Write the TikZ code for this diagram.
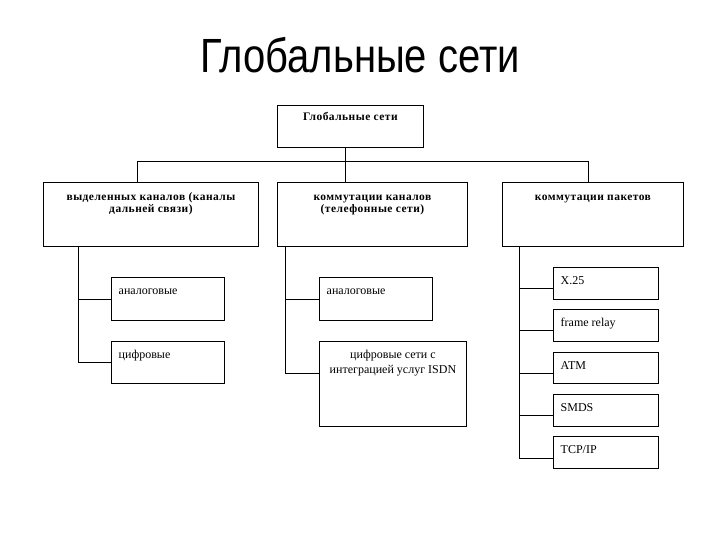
\documentclass[tikz,border=0pt]{standalone}
\usepackage{fontspec}
\setmainfont{Liberation Serif}
\newfontfamily\titlefont{Liberation Sans}
\newfontfamily\headfont[LetterSpace=4]{Liberation Serif}

\tikzset{
  box/.style 2 args={draw, line width=0.9pt, anchor=north west,
    minimum width=#1, minimum height=#2, inner sep=0pt},
  head/.style={anchor=base, inner sep=0pt, yshift=-19pt,
    font=\headfont\bfseries\fontsize{11.5}{12}\selectfont},
  item/.style={anchor=base west, inner sep=0pt, xshift=7.5pt, yshift=-17.5pt,
    font=\fontsize{12}{15}\selectfont},
  itemc/.style={anchor=base, inner sep=0pt, yshift=-17pt,
    font=\fontsize{12}{15}\selectfont},
  link/.style={line width=0.9pt}
}

\begin{document}
\begin{tikzpicture}[x=1pt, y=-1pt]
  \useasboundingbox (0,0) rectangle (720,540);
  % Title
  \node [font=\titlefont\fontsize{40}{48}\selectfont, anchor=base] (title)
    at (360,73) {\scalebox{1}[1.2]{Глобальные сети}};
  % Top and first level
  \node [box={146pt}{42pt}, label={[head, yshift=3pt]north:{Глобальные  сети}}]
    (glob) at (277,105) {};
  \node [box={215pt}{64pt}, label={[head]north:{\parbox[t]{210pt}{\centering
    выделенных каналов (каналы\\дальней связи)}}}]
    (lease) at (43,182) {};
  \node [box={190pt}{64pt}, label={[head]north:{\parbox[t]{185pt}{\centering
    коммутации каналов\\(телефонные сети)}}}]
    (circ) at (277,182) {};
  \node [box={181pt}{64pt}, label={[head]north:{коммутации пакетов}}]
    (pack) at (502,182) {};
  % Second level
  \node [box={113pt}{43pt}, label={[item]north west:аналоговые}] (an1) at (111,277) {};
  \node [box={113pt}{42pt}, label={[item]north west:цифровые}] (dig1) at (111,341) {};
  \node [box={113pt}{43pt}, label={[item]north west:аналоговые}] (an2) at (319,277) {};
  \node [box={147pt}{85pt}, label={[itemc]north:{\parbox[t]{145pt}{\centering
    цифровые сети с\\интеграцией услуг ISDN}}}]
    (isdn) at (319,341) {};
  \node [box={105pt}{32pt}, label={[item]north west:X.25}] (x25) at (553,267) {};
  \node [box={105pt}{32pt}, label={[item]north west:frame relay}] (fr) at (553,309) {};
  \node [box={105pt}{31pt}, label={[item]north west:ATM}] (atm) at (553,352) {};
  \node [box={105pt}{32pt}, label={[item]north west:SMDS}] (smds) at (553,394) {};
  \node [box={105pt}{32pt}, label={[item]north west:TCP/IP}] (tcp) at (553,436) {};
  % Connectors
  \coordinate (bus) at (345,161);
  \coordinate (busl) at (137,161);
  \coordinate (busr) at (588,161);
  \coordinate (t1) at (78,246);
  \coordinate (t2) at (285,246);
  \coordinate (t3) at (519,246);
  \draw [link] (glob.south -| bus) -- (bus);
  \draw [link] (busl) -- (busr);
  \draw [link] (busl) -- (lease.north -| busl);
  \draw [link] (bus) -- (circ.north -| bus);
  \draw [link] (busr) -- (pack.north -| busr);
  \draw [link] (t1) |- (an1.west);
  \draw [link] (t1) |- (dig1.west);
  \draw [link] (t2) |- (an2.west);
  \draw [link] (t2) |- ([yshift=10.5pt]isdn.west);
  \draw [link] (t3) |- ([yshift=-5pt]x25.west);
  \draw [link] (t3) |- ([yshift=-5pt]fr.west);
  \draw [link] (t3) |- ([yshift=-5pt]atm.west);
  \draw [link] (t3) |- ([yshift=-5pt]smds.west);
  \draw [link] (t3) |- ([yshift=-6pt]tcp.west);
\end{tikzpicture}
\end{document}
